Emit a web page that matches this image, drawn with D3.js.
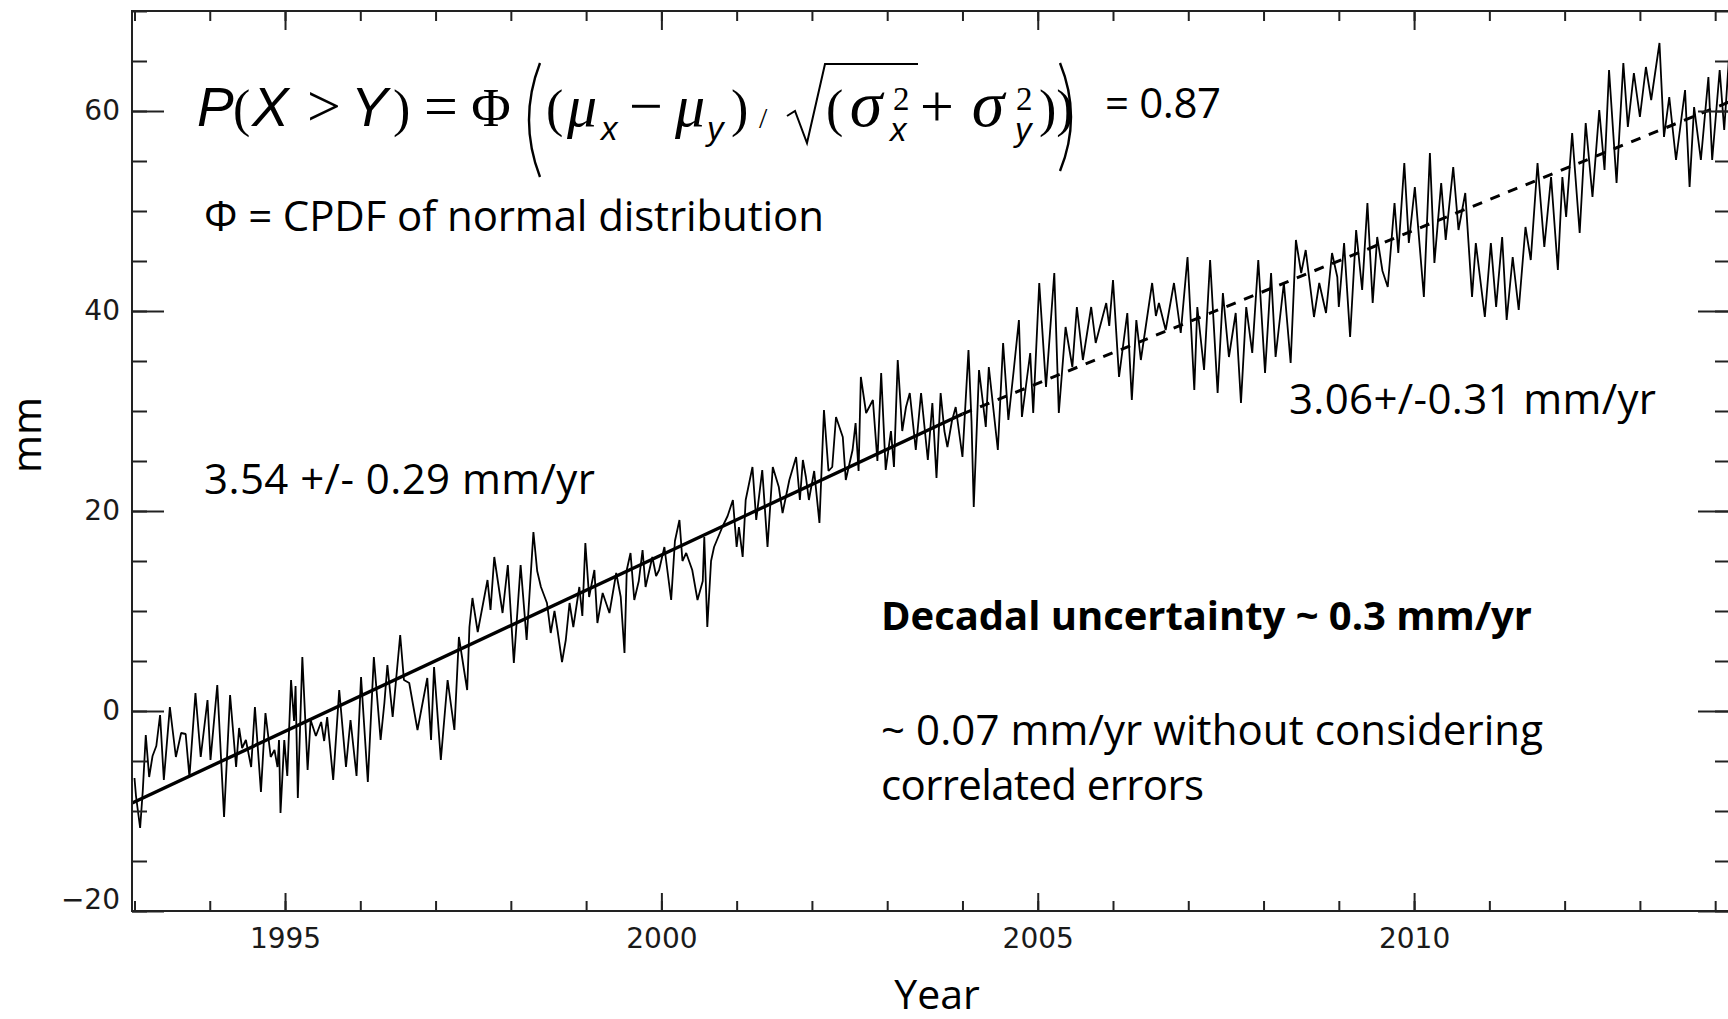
<!DOCTYPE html>
<html>
<head>
<meta charset="utf-8">
<script src="https://cdn.jsdelivr.net/npm/d3@7"></script>
<style>
  body { margin: 0; background: #fff; }
  svg { display: block; }
</style>
</head>
<body>
<div id="chart"></div>
<script>
// Sea level series (mm)
const years = [
  1993.00, 1993.02, 1993.075, 1993.11, 1993.15, 1993.195, 1993.24, 1993.29, 1993.34, 1993.39,
  1993.47, 1993.55, 1993.62, 1993.68, 1993.73, 1993.81, 1993.88, 1993.97, 1994.01, 1994.10,
  1994.19, 1994.27, 1994.35, 1994.39, 1994.43, 1994.48, 1994.55, 1994.60, 1994.68, 1994.74,
  1994.81, 1994.86, 1994.90, 1994.92, 1994.94, 1994.99, 1995.03, 1995.08, 1995.12, 1995.14,
  1995.17, 1995.23, 1995.30, 1995.34, 1995.41, 1995.48, 1995.52, 1995.56, 1995.64, 1995.72,
  1995.81, 1995.87, 1995.95, 1996.01, 1996.10, 1996.18, 1996.27, 1996.32, 1996.36, 1996.43,
  1996.53, 1996.58, 1996.65, 1996.76, 1996.89, 1996.94, 1996.98, 1997.07, 1997.16, 1997.25,
  1997.31, 1997.42, 1997.45, 1997.49, 1997.56, 1997.69, 1997.73, 1997.78, 1997.89, 1997.96,
  1998.04, 1998.13, 1998.21, 1998.30, 1998.35, 1998.40, 1998.48, 1998.53, 1998.58, 1998.62,
  1998.68, 1998.73, 1998.78, 1998.83, 1998.91, 1998.95, 1998.99, 1999.04, 1999.11, 1999.15,
  1999.22, 1999.31, 1999.40, 1999.46, 1999.51, 1999.54, 1999.59, 1999.64, 1999.70, 1999.75,
  1999.79, 1999.88, 1999.93, 1999.97, 2000.04, 2000.13, 2000.18, 2000.24, 2000.28, 2000.33,
  2000.41, 2000.48, 2000.55, 2000.57, 2000.61, 2000.66, 2000.70, 2000.81, 2000.88, 2000.95,
  2001.00, 2001.03, 2001.08, 2001.12, 2001.21, 2001.26, 2001.34, 2001.41, 2001.48, 2001.56,
  2001.61, 2001.70, 2001.79, 2001.84, 2001.88, 2001.92, 2001.96, 2002.03, 2002.10, 2002.16,
  2002.22, 2002.27, 2002.32, 2002.41, 2002.45, 2002.54, 2002.58, 2002.62, 2002.65, 2002.72,
  2002.81, 2002.87, 2002.92, 2002.98, 2003.05, 2003.09, 2003.14, 2003.20, 2003.25, 2003.30,
  2003.38, 2003.45, 2003.54, 2003.60, 2003.655, 2003.71, 2003.76, 2003.80, 2003.86, 2003.91,
  2004.00, 2004.08, 2004.12, 2004.15, 2004.22, 2004.31, 2004.35, 2004.47, 2004.54, 2004.61,
  2004.68, 2004.75, 2004.79, 2004.90, 2004.94, 2005.02, 2005.11, 2005.22, 2005.28, 2005.37,
  2005.46, 2005.52, 2005.60, 2005.71, 2005.77, 2005.91, 2005.95, 2006.00, 2006.08, 2006.19,
  2006.25, 2006.31, 2006.37, 2006.52, 2006.57, 2006.61, 2006.70, 2006.81, 2006.90, 2006.99,
  2007.08, 2007.12, 2007.21, 2007.29, 2007.39, 2007.46, 2007.54, 2007.63, 2007.70, 2007.77,
  2007.85, 2007.93, 2008.02, 2008.10, 2008.16, 2008.27, 2008.36, 2008.43, 2008.50, 2008.56,
  2008.67, 2008.74, 2008.83, 2008.91, 2008.98, 2009.00, 2009.07, 2009.15, 2009.23, 2009.31,
  2009.38, 2009.45, 2009.51, 2009.58, 2009.65, 2009.74, 2009.79, 2009.87, 2009.93, 2010.01,
  2010.13, 2010.21, 2010.27, 2010.36, 2010.42, 2010.52, 2010.59, 2010.68, 2010.77, 2010.82,
  2010.94, 2011.02, 2011.09, 2011.17, 2011.23, 2011.31, 2011.39, 2011.48, 2011.55, 2011.64,
  2011.73, 2011.82, 2011.91, 2011.97, 2012.02, 2012.10, 2012.20, 2012.28, 2012.37, 2012.46,
  2012.53, 2012.59, 2012.69, 2012.78, 2012.84, 2012.92, 2013.00, 2013.08, 2013.15, 2013.26,
  2013.32, 2013.39, 2013.48, 2013.60, 2013.66, 2013.72, 2013.81, 2013.91, 2013.96, 2014.06,
  2014.12, 2014.19, 2014.25
];
const seaLevel = [
  -6.7, -8.5, -11.7, -8.0, -2.4, -6.6, -4.5, -3.5, -0.4, -6.9,
  0.4, -4.6, -2.2, -2.3, -6.6, 1.8, -4.6, 1.1, -4.9, 2.6,
  -10.6, 1.6, -5.6, -1.7, -3.7, -2.9, -5.6, 0.4, -8.1, -0.2,
  -4.6, -3.9, -5.6, -2.9, -10.2, -2.9, -6.5, 3.1, -1.0, 2.5,
  -8.7, 5.4, -5.9, -0.9, -2.5, -1.1, -3.0, -0.6, -6.9, 2.1,
  -5.6, -0.9, -6.5, 3.4, -7.1, 5.4, -2.9, 0.8, 4.6, -0.6,
  7.6, 3.1, 2.8, -1.9, 3.3, -2.9, 4.4, -4.9, 3.1, -1.9,
  7.4, 2.1, 8.4, 11.3, 7.9, 13.1, 10.1, 15.4, 9.8, 14.6,
  4.8, 14.6, 7.1, 17.9, 14.0, 12.4, 10.8, 7.8, 10.0, 8.1,
  4.9, 7.1, 10.8, 8.4, 12.4, 9.5, 16.8, 11.4, 14.1, 8.8,
  11.8, 9.8, 13.8, 11.4, 5.8, 14.1, 15.8, 11.1, 13.0, 16.1,
  12.4, 15.4, 13.5, 14.1, 16.4, 11.1, 17.0, 19.1, 15.0, 15.8,
  14.1, 11.1, 13.0, 17.4, 8.4, 15.0, 16.4, 18.4, 19.5, 21.1,
  16.4, 18.4, 15.4, 21.1, 24.4, 19.1, 24.1, 16.4, 24.4, 22.4,
  19.8, 23.1, 25.4, 21.1, 25.1, 23.4, 21.1, 24.0, 18.8, 30.1,
  24.0, 24.4, 29.4, 27.4, 23.1, 26.1, 28.8, 24.0, 33.4, 29.8,
  31.1, 25.0, 33.8, 24.1, 28.0, 24.4, 35.1, 28.0, 30.4, 31.8,
  26.1, 31.8, 25.1, 30.8, 23.3, 31.8, 28.0, 26.4, 29.0, 30.4,
  25.4, 36.1, 29.0, 20.4, 34.1, 28.4, 34.4, 26.1, 36.8, 29.1,
  34.0, 39.1, 29.4, 35.8, 29.8, 42.8, 32.4, 43.8, 29.8, 38.4,
  34.4, 40.4, 35.1, 40.4, 36.8, 40.8, 38.5, 43.1, 33.4, 39.8,
  31.1, 39.1, 35.1, 42.8, 39.5, 40.8, 38.1, 42.8, 37.8, 45.4,
  32.1, 40.4, 34.1, 45.1, 31.8, 41.8, 35.4, 39.8, 30.8, 40.4,
  35.8, 45.1, 33.8, 43.8, 35.4, 42.8, 34.8, 47.1, 43.8, 46.1,
  39.4, 42.8, 39.8, 45.8, 43.4, 40.4, 46.8, 37.4, 48.1, 42.1,
  50.8, 40.8, 47.4, 44.0, 42.4, 50.8, 45.8, 54.8, 46.8, 52.4,
  41.4, 55.8, 44.8, 52.8, 47.1, 54.4, 48.1, 51.8, 41.4, 46.8,
  39.4, 46.8, 40.4, 47.4, 39.1, 45.4, 40.1, 48.4, 45.1, 54.8,
  46.4, 53.4, 44.1, 53.4, 49.4, 57.8, 47.8, 58.8, 51.4, 60.1,
  54.1, 64.1, 52.8, 64.8, 58.4, 63.8, 59.4, 64.4, 61.1, 66.8,
  57.4, 61.4, 55.1, 62.1, 52.4, 60.4, 55.1, 63.4, 55.1, 64.1,
  58.1, 66.1, 60.0
];

// Fitted trends: 3.54 mm/yr to 2004, 3.06 mm/yr after
const trendYears = [1992.97, 2004.0, 2014.25];
const trendMm = [-9.2, 29.7, 61.1];

// Axis ticks
const yearTicks = d3.range(1993, 2015);
const majorYearTicks = [1995, 2000, 2005, 2010];
const mmTicks = d3.range(-20, 71, 5);
const majorMmTicks = [-20, 0, 20, 40, 60];

const width = 1728, height = 1019;
const plot = {left: 132, right: 1730, top: 11, bottom: 911};

const svg = d3.select("#chart")
  .append("svg")
    .attr("width", width)
    .attr("height", height);

svg.append("rect").attr("width", width).attr("height", height).attr("fill", "#fff");

const x = d3.scaleLinear()
            .domain([1992.967, 2014.197])
            .range([plot.left, plot.right]);
const y = d3.scaleLinear()
            .domain([-20, 70])
            .range([plot.bottom, plot.top]);

// clip for the data
svg.append("clipPath").attr("id", "plotclip")
   .append("rect")
     .attr("x", plot.left).attr("y", plot.top)
     .attr("width", plot.right - plot.left).attr("height", plot.bottom - plot.top);

const series = years.map((yr, i) => ({year: yr, mm: seaLevel[i]}));
const trend = trendYears.map((yr, i) => ({year: yr, mm: trendMm[i]}));

const line = d3.line()
               .x(d => x(d.year))
               .y(d => y(d.mm));

const dataG = svg.append("g").attr("clip-path", "url(#plotclip)");

dataG.append("path")
     .datum(series)
     .attr("fill", "none")
     .attr("stroke", "#000")
     .attr("stroke-width", 1.8)
     .attr("stroke-linejoin", "bevel")
     .attr("d", line);

// solid trend up to 2004, dashed afterwards
dataG.append("path")
     .datum(trend.slice(0, 2))
     .attr("fill", "none")
     .attr("stroke", "#000")
     .attr("stroke-width", 3.4)
     .attr("d", line);
dataG.append("path")
     .datum(trend.slice(1))
     .attr("fill", "none")
     .attr("stroke", "#000")
     .attr("stroke-width", 3)
     .attr("stroke-dasharray", "10,9")
     .attr("d", line);

// Axes (ticks point inward, like the IDL plot)
function styleAxis(g) {
  g.select(".domain").remove();
  g.selectAll("line").attr("stroke", "#222").attr("stroke-width", 2);
  g.attr("font-family", "'DejaVu Sans', sans-serif")
   .attr("font-size", 28);
  g.selectAll("text").attr("fill", "#1a1a1a");
}

svg.append("g")
   .attr("transform", `translate(0,${plot.bottom})`)
   .call(d3.axisBottom(x).tickValues(yearTicks).tickSize(-10).tickFormat(""))
   .call(styleAxis);
svg.append("g")
   .attr("transform", `translate(0,${plot.bottom})`)
   .call(d3.axisBottom(x).tickValues(majorYearTicks).tickSize(-18).tickPadding(17).tickFormat(d3.format("d")))
   .call(styleAxis);
svg.append("g")
   .attr("transform", `translate(0,${plot.top})`)
   .call(d3.axisTop(x).tickValues(yearTicks).tickSize(-10).tickFormat(""))
   .call(styleAxis);
svg.append("g")
   .attr("transform", `translate(0,${plot.top})`)
   .call(d3.axisTop(x).tickValues(majorYearTicks).tickSize(-19).tickFormat(""))
   .call(styleAxis);

svg.append("g")
   .attr("transform", `translate(${plot.left},0)`)
   .call(d3.axisLeft(y).tickValues(mmTicks).tickSize(-15).tickFormat(""))
   .call(styleAxis);
const leftMajor = svg.append("g")
   .attr("transform", `translate(${plot.left},0)`)
   .call(d3.axisLeft(y).tickValues(majorMmTicks).tickSize(-32).tickPadding(12).tickFormat(d3.format("d")))
   .call(styleAxis);
// bottom label sits a bit higher so it clears the year labels
leftMajor.selectAll(".tick text").filter(d => d === -20).attr("y", -11);

svg.append("g")
   .attr("transform", `translate(${plot.right},0)`)
   .call(d3.axisRight(y).tickValues(mmTicks).tickSize(-15).tickFormat(""))
   .call(styleAxis);
svg.append("g")
   .attr("transform", `translate(${plot.right},0)`)
   .call(d3.axisRight(y).tickValues(majorMmTicks).tickSize(-32).tickFormat(""))
   .call(styleAxis);

// frame
svg.append("rect")
   .attr("x", plot.left).attr("y", plot.top)
   .attr("width", plot.right - plot.left).attr("height", plot.bottom - plot.top)
   .attr("fill", "none").attr("stroke", "#222").attr("stroke-width", 2);

// Axis titles
const labelFont = "'Open Sans', 'Noto Sans', sans-serif";
svg.append("text")
   .attr("x", 937).attr("y", 1009)
   .attr("text-anchor", "middle")
   .attr("font-family", labelFont).attr("font-size", 41)
   .text("Year");
svg.append("text")
   .attr("transform", "translate(41,435) rotate(-90)")
   .attr("text-anchor", "middle")
   .attr("font-family", labelFont).attr("font-size", 41)
   .text("mm");

// Annotations (len = width of the text in the reference)
const notes = [
  {t: "\u03A6 = CPDF of normal distribution", x: 204, y: 231, w: 400, len: 620},
  {t: "3.54 +/- 0.29 mm/yr", x: 204, y: 494, w: 400, len: 391},
  {t: "3.06+/-0.31 mm/yr", x: 1289, y: 414, w: 400, len: 367},
  {t: "Decadal uncertainty ~ 0.3 mm/yr", x: 881, y: 630, w: 700, len: 651},
  {t: "~ 0.07 mm/yr without considering", x: 881, y: 745, w: 400, len: 662},
  {t: "correlated errors", x: 881, y: 800, w: 400, len: 323},
  {t: "= 0.87", x: 1105, y: 118, w: 400, len: 116}
];
svg.append("g")
   .selectAll("text")
   .data(notes)
   .join("text")
     .attr("x", d => d.x)
     .attr("y", d => d.y)
     .attr("font-family", labelFont)
     .attr("font-size", d => d.w > 400 ? 40 : 42)
     .attr("font-weight", d => d.w)
     .attr("textLength", d => d.len)
     .attr("lengthAdjust", "spacing")
     .attr("fill", "#000")
     .text(d => d.t);

// Formula  P(X > Y) = Φ((μx − μy) / √(σx² + σy²))
const sans = "'Liberation Sans', Arial, sans-serif";
const serif = "'Liberation Serif', 'Times New Roman', serif";
const formulaParts = [
  {t: "P", x: 197, y: 126, f: sans, s: 55, i: true},
  {t: "(", x: 233, y: 126, f: serif, s: 52},
  {t: "X", x: 252, y: 126, f: sans, s: 55, i: true},
  {t: ">", x: 324, y: 126, f: serif, s: 60, a: "middle"},
  {t: "Y", x: 351, y: 126, f: sans, s: 55, i: true},
  {t: ")", x: 393, y: 126, f: serif, s: 52},
  {t: "=", x: 441, y: 126, f: serif, s: 60, a: "middle"},
  {t: "\u03A6", x: 491, y: 126, f: serif, s: 54, a: "middle"},
  {t: "(", x: 546, y: 126, f: serif, s: 52},
  {t: "\u03BC", x: 582, y: 126, f: serif, s: 60, i: true, a: "middle"},
  {t: "x", x: 601, y: 140, f: sans, s: 33, i: true},
  {t: "\u2212", x: 646, y: 126, f: serif, s: 60, a: "middle"},
  {t: "\u03BC", x: 690, y: 126, f: serif, s: 60, i: true, a: "middle"},
  {t: "y", x: 707, y: 140, f: sans, s: 33, i: true},
  {t: ")", x: 731, y: 126, f: serif, s: 52},
  {t: "/", x: 759, y: 128, f: serif, s: 30},
  {t: "(", x: 826, y: 126, f: serif, s: 52},
  {t: "\u03C3", x: 866, y: 126, f: serif, s: 66, i: true, a: "middle"},
  {t: "2", x: 893, y: 110, f: serif, s: 33},
  {t: "x", x: 890, y: 141, f: sans, s: 33, i: true},
  {t: "+", x: 937, y: 126, f: serif, s: 60, a: "middle"},
  {t: "\u03C3", x: 988, y: 126, f: serif, s: 66, i: true, a: "middle"},
  {t: "2", x: 1016, y: 110, f: serif, s: 33},
  {t: "y", x: 1015, y: 141, f: sans, s: 33, i: true},
  {t: "))", x: 1039, y: 126, f: serif, s: 52}
];
const formula = svg.append("g");
formula.selectAll("text")
   .data(formulaParts)
   .join("text")
     .attr("x", d => d.x)
     .attr("y", d => d.y)
     .attr("text-anchor", d => d.a || "start")
     .attr("font-family", d => d.f)
     .attr("font-size", d => d.s)
     .attr("font-style", d => d.i ? "italic" : "normal")
     .attr("fill", "#000")
     .text(d => d.t);

// big brackets and the root sign
formula.append("path")
   .attr("d", "M540,63 Q518,120 540,177")
   .attr("fill", "none").attr("stroke", "#000").attr("stroke-width", 2.4);
formula.append("path")
   .attr("d", "M1060,63 Q1082,117 1060,171")
   .attr("fill", "none").attr("stroke", "#000").attr("stroke-width", 2.4);
formula.append("path")
   .attr("d", "M787,116 L795,111 L807,143 L825,64 L918,64")
   .attr("fill", "none").attr("stroke", "#000").attr("stroke-width", 2);
</script>
</body>
</html>
